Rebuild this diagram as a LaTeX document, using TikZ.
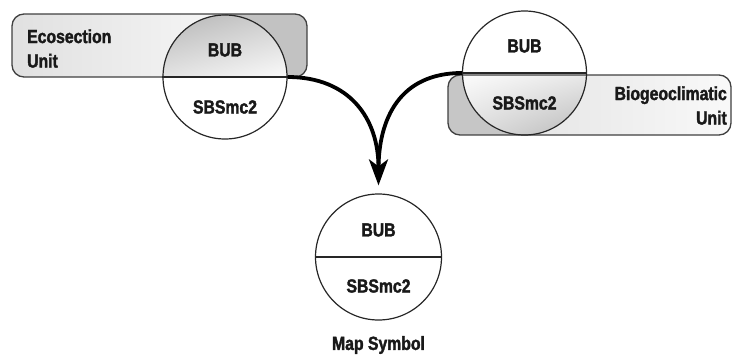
\documentclass[tikz,border=0pt]{standalone}
\usepackage{fontspec}
\setmainfont{Liberation Sans}[FakeStretch=0.83, BoldFeatures={FakeBold=1.8}]
\usetikzlibrary{arrows.meta,shadings}
\begin{document}
\begin{tikzpicture}[x=1pt,y=-1pt,
  lbl/.style={font=\fontsize{19}{24.5}\selectfont\bfseries, inner sep=0pt, text=black!90},
  unitbox/.style={draw=black!75, line width=1.3pt, rounded corners=12pt},
  disc/.style={circle, draw=black!85, line width=1.2pt, minimum size=124pt, inner sep=0pt},
  splitline/.style={draw=black!85, line width=1.2pt},
  flow/.style={line width=3.8pt, black}
]
\useasboundingbox (0,0) rectangle (733,356);

% ---------- left: ecosection unit ----------
\begin{scope}
  \clip[rounded corners=12pt] (12,14) rectangle (307,77);
  \fill[gray!48] (12,14) rectangle (307,77);
  \shade[left color=gray!24, right color=gray!7] (12,14) rectangle (225,77);
  \clip (225,77) circle (62);
  \shade[upper left=gray!58, upper right=gray!38, lower left=gray!22, lower right=gray!4] (163,14) rectangle (287,77);
\end{scope}
\draw[unitbox] (12,14) rectangle (307,77);
\node[disc] (L) at (225,77) {};
\draw[splitline] (L.west) -- (L.east);

% ---------- right: biogeoclimatic unit ----------
\begin{scope}
  \clip[rounded corners=12pt] (448,75) rectangle (731,135);
  \fill[gray!45] (448,75) rectangle (731,135);
  \shade[left color=gray!20, right color=gray!5] (524.5,75) rectangle (731,135);
  \clip (524.5,73) circle (62);
  \shade[upper left=gray!3, upper right=gray!18, lower left=gray!25, lower right=gray!55] (462,75) rectangle (587,135);
\end{scope}
\draw[unitbox] (448,75) rectangle (731,135);
\node[disc] (R) at (524.5,73) {};
\draw[splitline] (R.west) -- (R.east);

% ---------- bottom: map symbol ----------
\node[disc, minimum size=126pt] (M) at (378.5,257) {};
\draw[splitline] (M.west) -- (M.east);

% ---------- labels ----------
\node[lbl, anchor=west, align=left] (eco) at (27,48.5) {Ecosection\\Unit};
\node[lbl] (lb) at (225,50) {BUB};
\node[lbl] (ls) at (225,107) {SBSmc2};
\node[lbl, anchor=east, align=right] (bio) at (727,105.5) {Biogeoclimatic\\Unit};
\node[lbl] (rb) at (524.5,46) {BUB};
\node[lbl] (rs) at (524.5,103) {SBSmc2};
\node[lbl] (mb) at (378.5,230) {BUB};
\node[lbl] (ms) at (378.5,286) {SBSmc2};
\node[lbl] (cap) at (378.5,345) {Map Symbol};

% ---------- flow arrows ----------
\draw[flow, shorten >=24pt] (R.west) .. controls +(-62,0) and +(0,-75) .. (M.north);
\draw[flow, -{Stealth[length=26pt,width=19pt,inset=7pt]}, shorten >=8pt]
  (L.east) .. controls +(62,0) and +(0,-75) .. (M.north);
\end{tikzpicture}
\end{document}
